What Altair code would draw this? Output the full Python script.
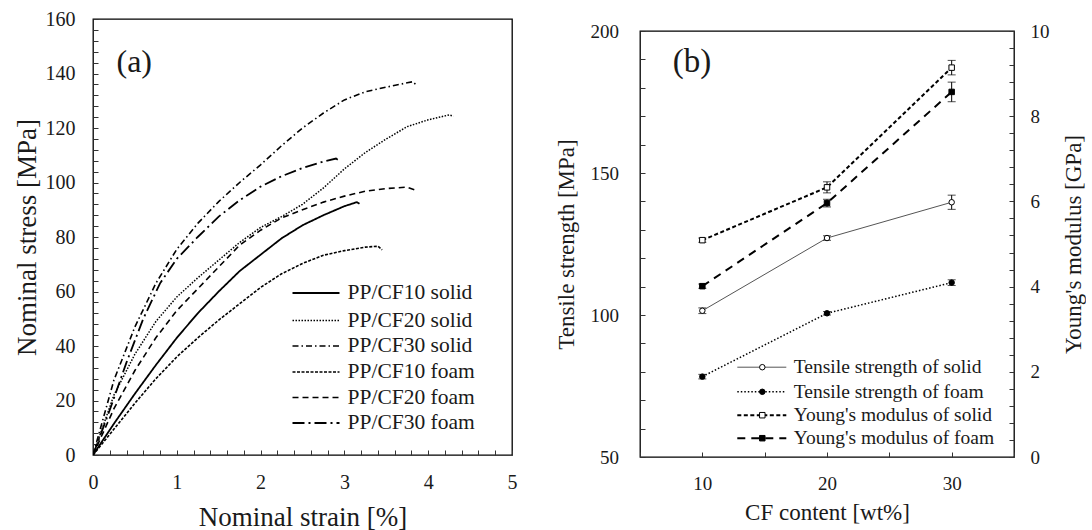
import altair as alt
import pandas as pd

FONT = "Liberation Serif"
INK = "#1a1a1a"

# ---------------- panel (a): stress-strain curves ----------------
cf10_solid_strain = [0, 0.25, 0.5, 0.75, 1, 1.25, 1.5, 1.75, 2, 2.25, 2.5, 2.75, 3, 3.15, 3.18]
cf10_solid_stress = [0, 11.5, 22.5, 33, 43, 52, 60, 67.5, 73.5, 79.5, 84.3, 88, 91.3, 92.8, 92.2]

cf20_solid_strain = [0, 0.25, 0.5, 0.75, 1, 1.25, 1.5, 1.75, 2, 2.25, 2.5, 2.75, 3, 3.25, 3.5, 3.75, 4, 4.25, 4.3]
cf20_solid_stress = [0, 22, 37, 49, 58, 65, 71.5, 78, 83.5, 87.5, 92, 98, 105, 111, 116, 120.5, 123, 124.8, 124.3]

cf30_solid_strain = [0, 0.25, 0.5, 0.75, 1, 1.25, 1.5, 1.75, 2, 2.25, 2.5, 2.75, 3, 3.25, 3.5, 3.75, 3.82, 3.86]
cf30_solid_stress = [0, 27.5, 47, 63, 75.5, 85, 93, 100, 106.5, 113.5, 120, 125.5, 130.3, 133.3, 135, 136.6, 137, 135.6]

cf10_foam_strain = [0, 0.25, 0.5, 0.75, 1, 1.25, 1.5, 1.75, 2, 2.25, 2.5, 2.75, 3, 3.25, 3.4, 3.45]
cf10_foam_stress = [0, 9.5, 19, 28, 36, 43, 49.5, 55.5, 61.5, 66.5, 70.3, 73.3, 75, 76.3, 76.6, 75.3]

cf20_foam_strain = [0, 0.25, 0.5, 0.75, 1, 1.25, 1.5, 1.75, 2, 2.25, 2.5, 2.75, 3, 3.25, 3.5, 3.75, 3.84]
cf20_foam_stress = [0, 17, 31, 43, 53, 61, 69, 77, 82.5, 87, 90, 92.8, 95, 96.8, 97.8, 98.3, 97.3]

cf30_foam_strain = [0, 0.2, 0.4, 0.6, 0.8, 1, 1.25, 1.5, 1.75, 2, 2.25, 2.5, 2.75, 2.9, 2.93]
cf30_foam_stress = [0, 16.5, 34, 50, 63, 72, 80, 87.5, 93.5, 98.5, 102.3, 105.3, 107.7, 108.8, 108.2]

a_names = ["PP/CF10 solid", "PP/CF20 solid", "PP/CF30 solid",
           "PP/CF10 foam", "PP/CF20 foam", "PP/CF30 foam"]
a_x = [cf10_solid_strain, cf20_solid_strain, cf30_solid_strain,
       cf10_foam_strain, cf20_foam_strain, cf30_foam_strain]
a_y = [cf10_solid_stress, cf20_solid_stress, cf30_solid_stress,
       cf10_foam_stress, cf20_foam_stress, cf30_foam_stress]
a_dash = [[1, 0], [1.5, 1.5], [6, 3, 1.5, 3], [3, 1.5], [6, 4], [12, 4, 2, 4]]
a_width = [1.8, 1.5, 1.6, 1.6, 1.6, 1.8]

a_y_ticks = list(range(0, 161, 4))
a_x_ticks = [round(i * 0.2, 1) for i in range(0, 26)]

# ---------------- panel (b): properties vs CF content ----------------
cf_content = [10, 20, 30]
ts_solid = [101.5, 127.1, 139.7]
ts_solid_err = [1.0, 0.8, 2.5]
ts_foam = [78.3, 100.6, 111.4]
ts_foam_err = [0.8, 0.6, 1.0]
ym_solid = [5.09, 6.33, 9.14]
ym_solid_err = [0.05, 0.13, 0.17]
ym_foam = [4.01, 5.96, 8.57]
ym_foam_err = [0.05, 0.09, 0.23]

b_x_ticks = [5, 10, 15, 20, 25, 30, 35]
b_yl_ticks = list(range(50, 201, 10))
b_yr_ticks = [round(i * 0.4, 1) for i in range(0, 26)]


def axis(values, expr, orient, title, lsize, tsize, lpad, tpad, **extra):
    return alt.Axis(values=values, labelExpr=expr, orient=orient, title=title,
                    labelFont=FONT, titleFont=FONT, labelFontSize=lsize,
                    titleFontSize=tsize, titleFontWeight="normal",
                    labelColor=INK, titleColor=INK, grid=False, domain=False,
                    ticks=True, tickSize=5, offset=-5, tickColor="#333",
                    tickWidth=1, labelPadding=lpad, titlePadding=tpad,
                    labelOverlap=False, labelFlush=False, **extra)


def major(step):
    return ("datum.value % " + str(step) +
            " == 0 ? format(datum.value, 'd') : ''")


# ---------------- panel (a) chart ----------------
ax_a_x = axis(a_x_ticks, major(1), "bottom", "Nominal strain [%]", 20, 27, 17, 12)
ax_a_y = axis(a_y_ticks, major(20), "left", "Nominal stress [MPa]", 20, 27, 18, 4)

sx_a = alt.Scale(domain=[0, 5], nice=False)
sy_a = alt.Scale(domain=[0, 160], nice=False)

a_layers = []
for name, xs, ys, dash, w in zip(a_names, a_x, a_y, a_dash, a_width):
    df = pd.DataFrame({"strain": xs, "stress": ys, "series": name})
    a_layers.append(
        alt.Chart(df).mark_line(color="black", strokeDash=dash, strokeWidth=w,
                                clip=True)
        .encode(x=alt.X("strain:Q", scale=sx_a, axis=ax_a_x),
                y=alt.Y("stress:Q", scale=sy_a, axis=ax_a_y))
    )

leg_a_rows = [274, 301.5, 327, 353, 378.5, 404]
for name, dash, w, ry in zip(a_names, a_dash, a_width, leg_a_rows):
    one = pd.DataFrame({"label": [name]})
    a_layers.append(
        alt.Chart(one).mark_rule(color="black", strokeDash=dash, strokeWidth=w)
        .encode(x=alt.value(199.5), x2=alt.value(246.5), y=alt.value(ry))
    )
    a_layers.append(
        alt.Chart(one).mark_text(align="left", baseline="middle", font=FONT,
                                 fontSize=21.5, color=INK)
        .encode(x=alt.value(254.5), y=alt.value(ry), text="label:N")
    )

a_layers.append(
    alt.Chart(pd.DataFrame({"label": ["(a)"]})).mark_text(
        align="left", baseline="middle", font=FONT, fontSize=32, color=INK)
    .encode(x=alt.value(23.5), y=alt.value(43), text="label:N")
)

panel_a = alt.layer(*a_layers).properties(width=419, height=436)

# ---------------- panel (b) chart ----------------
ax_b_x = axis(b_x_ticks, major(10), "bottom", "CF content [wt%]", 19, 23, 17, 8)
ax_b_yl = axis(b_yl_ticks, major(50), "left", "Tensile strength [MPa]", 19, 23, 21.5, 12)
ax_b_yr = axis(b_yr_ticks, major(2), "right", "Young's modulus [GPa]", 19, 23, 16, 13,
               titleAngle=270, titleBaseline="top")

sx_b = alt.Scale(domain=[5, 35], nice=False)
sy_bl = alt.Scale(domain=[50, 200], nice=False)
sy_br = alt.Scale(domain=[0, 10], nice=False)

b_names = ["Tensile strength of solid", "Tensile strength of foam",
           "Young's modulus of solid", "Young's modulus of foam"]
b_line = [{"strokeWidth": 1, "color": "#555"},
          {"strokeWidth": 1.5, "strokeDash": [1.5, 2], "color": "black"},
          {"strokeWidth": 2, "strokeDash": [4, 2.5], "color": "black"},
          {"strokeWidth": 2, "strokeDash": [8, 6], "color": "black"}]
b_shape = ["circle", "circle", "square", "square"]
b_fill = ["white", "black", "white", "black"]


def series_layers(vals, errs, yscale, yaxis, line_kw, shape, fill):
    df = pd.DataFrame({
        "cf": cf_content,
        "v": vals,
        "lo": [v - e for v, e in zip(vals, errs)],
        "hi": [v + e for v, e in zip(vals, errs)],
    })
    base = alt.Chart(df)
    xx = alt.X("cf:Q", scale=sx_b, axis=ax_b_x)
    line = base.mark_line(**line_kw).encode(
        x=xx, y=alt.Y("v:Q", scale=yscale, axis=yaxis))
    rule = base.mark_rule(color="black", strokeWidth=1).encode(
        x=xx, y=alt.Y("lo:Q", scale=yscale, axis=yaxis), y2="hi:Q")
    cap_lo = base.mark_tick(color="black", orient="horizontal", size=8,
                            thickness=1).encode(
        x=xx, y=alt.Y("lo:Q", scale=yscale, axis=yaxis))
    cap_hi = base.mark_tick(color="black", orient="horizontal", size=8,
                            thickness=1).encode(
        x=xx, y=alt.Y("hi:Q", scale=yscale, axis=yaxis))
    pts = base.mark_point(shape=shape, filled=True, fill=fill,
                          stroke="black", strokeWidth=1, size=30,
                          opacity=1).encode(
        x=xx, y=alt.Y("v:Q", scale=yscale, axis=yaxis))
    return [line, rule, cap_lo, cap_hi, pts]


left_layers = (
    series_layers(ts_solid, ts_solid_err, sy_bl, ax_b_yl, b_line[0], b_shape[0], b_fill[0])
    + series_layers(ts_foam, ts_foam_err, sy_bl, ax_b_yl, b_line[1], b_shape[1], b_fill[1])
)
right_layers = (
    series_layers(ym_solid, ym_solid_err, sy_br, ax_b_yr, b_line[2], b_shape[2], b_fill[2])
    + series_layers(ym_foam, ym_foam_err, sy_br, ax_b_yr, b_line[3], b_shape[3], b_fill[3])
)

leg_b_rows = [336.2, 360.8, 384.2, 407.2]
leg_b = []
for name, lk, shp, fl, ry in zip(b_names, b_line, b_shape, b_fill, leg_b_rows):
    one = pd.DataFrame({"label": [name]})
    leg_b.append(alt.Chart(one).mark_rule(**lk)
                 .encode(x=alt.value(97.3), x2=alt.value(146.3), y=alt.value(ry)))
    leg_b.append(alt.Chart(one).mark_point(shape=shp, filled=True, fill=fl,
                                           stroke="black", strokeWidth=1,
                                           size=30, opacity=1)
                 .encode(x=alt.value(122.3), y=alt.value(ry)))
    leg_b.append(alt.Chart(one).mark_text(align="left", baseline="middle",
                                          font=FONT, fontSize=19.5, color=INK)
                 .encode(x=alt.value(153.8), y=alt.value(ry), text="label:N"))

leg_b.append(
    alt.Chart(pd.DataFrame({"label": ["(b)"]})).mark_text(
        align="left", baseline="middle", font=FONT, fontSize=33, color=INK)
    .encode(x=alt.value(32.7), y=alt.value(31.2), text="label:N")
)

panel_b = alt.layer(
    alt.layer(*left_layers),
    alt.layer(*right_layers),
    *leg_b,
).resolve_scale(y="independent").properties(width=374, height=426)

spacer = alt.Chart(pd.DataFrame({"label": [""]})).mark_text().encode(
    text="label:N").properties(width=374, height=1,
                               view=alt.ViewBackground(stroke="transparent"))

right_col = alt.vconcat(spacer, panel_b, spacing=11, bounds="flush")

chart = alt.hconcat(panel_a, right_col, spacing=128, bounds="flush").configure_view(
    stroke="black", strokeWidth=1.3
).properties(padding={"left": 12, "top": 8, "right": 0, "bottom": 0},
             background="white")

chart.save("out.html", embed_options={"renderer": "svg", "actions": False})
